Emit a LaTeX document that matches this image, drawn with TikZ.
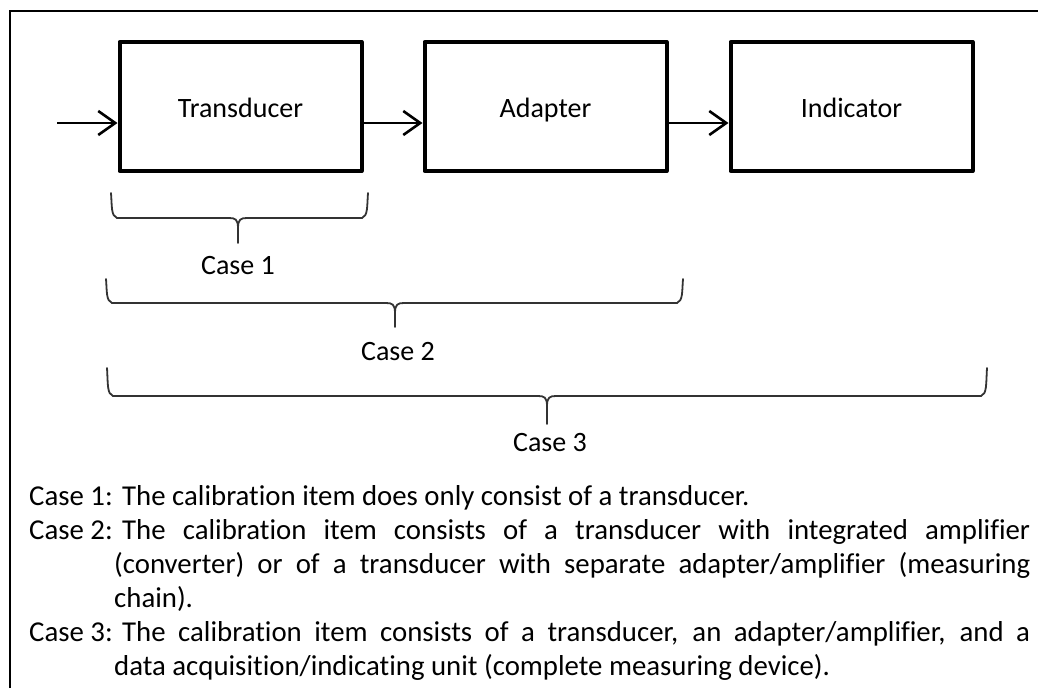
\documentclass[tikz,border=0pt]{standalone}
\usepackage{fontspec}
\setmainfont{Carlito}[Ligatures=NoCommon]
\usetikzlibrary{arrows.meta}
\newcommand\casebrace[6]{% x1, x2, top, h, xm, tip
  \draw[bracestyle] (#1,#3) .. controls (#1+1,#4-12) and (#1,#4-2) .. (#1+6,#4)
    -- (#5-9,#4) .. controls (#5-3,#4) and (#5,#4+1) .. (#5,#4+10) -- (#5,#6);
  \draw[bracestyle] (#2,#3) .. controls (#2-1,#4-12) and (#2,#4-2) .. (#2-6,#4)
    -- (#5+9,#4) .. controls (#5+3,#4) and (#5,#4+1) .. (#5,#4+10);
}
\begin{document}
\begin{tikzpicture}[x=1pt,y=-1pt,
  txt/.style={font=\fontsize{28}{33}\selectfont, inner sep=0pt},
  blk/.style={draw, line width=4pt, line join=round, minimum width=242pt, minimum height=129pt, inner sep=0pt, txt, text height=21.6pt, text depth=0pt},
  conn/.style={line width=2.6pt, -{Straight Barb[length=17pt,width=24pt,line width=2.6pt]}},
  bracestyle/.style={line width=1.8pt, draw=black!80, line cap=round},
  line/.style={font=\fontsize{28.8}{34}\selectfont, inner sep=0pt, anchor=base west},
]
\useasboundingbox (0,0) rectangle (1038,688);
\draw[line width=2pt] (10,688) -- (10,10.5) -- (1038,10.5);

\node[blk] (tr) at (240.5,106.5) {Transducer};
\node[blk] (ad) at (545.5,106.5) {Adapter};
\node[blk] (in) at (851.5,106.5) {Indicator};
\coordinate (src) at (57,123);

\draw[conn] (src) -- (src -| tr.west);
\draw[conn] ([yshift=-16.5pt]tr.east) -- ([yshift=-16.5pt]ad.west);
\draw[conn] ([yshift=-16.5pt]ad.east) -- ([yshift=-16.5pt]in.west);

\casebrace{111}{368}{193}{218}{238}{243}
\casebrace{106}{683}{279}{303}{395}{327}
\casebrace{107}{987}{368}{396}{547}{424}
\node[txt] (c1) at (238,266) {Case 1};
\node[txt] (c2) at (398,352) {Case 2};
\node[txt] (c3) at (550,443) {Case 3};

\node[line] (k1) at (29,505) {Case 1:};
\node[line] (l1) at (122,505) {The calibration item does only consist of a transducer.};
\node[line] (k2) at (29,539) {Case 2:};
\node[line] (l2) at (122,539) {\makebox[908pt][s]{The calibration item consists of a transducer with integrated amplifier}};
\node[line] (l3) at (114,573) {\makebox[916pt][s]{(converter) or of a transducer with separate adapter/amplifier (measuring}};
\node[line] (l4) at (114,607) {chain).};
\node[line] (k5) at (29,641) {Case 3:};
\node[line] (l5) at (122,641) {\makebox[908pt][s]{The calibration item consists of a transducer, an adapter/amplifier, and a}};
\node[line] (l6) at (114,675) {data acquisition/indicating unit (complete measuring device).};
\end{tikzpicture}
\end{document}
